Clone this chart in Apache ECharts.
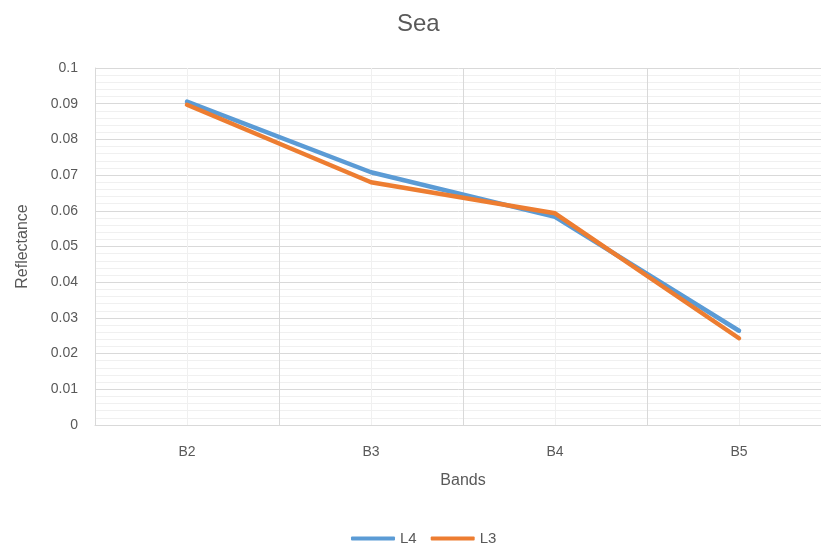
<!DOCTYPE html>
<html><head><meta charset="utf-8">
<script src="https://cdn.jsdelivr.net/npm/echarts@6/dist/echarts.min.js"></script>
<style>html,body{margin:0;padding:0;background:#fff}#c{width:821px;height:553px}</style>
</head><body><div id="c"></div>
<script>
const categories = ['B2','B3','B4','B5'];
const L4 = [0.0906, 0.0708, 0.0583, 0.0264];
const L3 = [0.0897, 0.0680, 0.0593, 0.0243];
const yTicks = [0,0.01,0.02,0.03,0.04,0.05,0.06,0.07,0.08,0.09,0.1];

const font = 'Liberation Sans';
const txt = '#595959';
const chart = echarts.init(document.getElementById('c'));
chart.setOption({
  animation:false,
  title:{text:'Sea', left:392, top:7, textStyle:{fontFamily:font, fontSize:24, fontWeight:'normal', color:txt}},
  legend:{bottom:2, left:346, itemWidth:44, itemHeight:4, icon:'roundRect', itemGap:14,
    textStyle:{fontFamily:font, fontSize:15, color:txt}, data:['L4','L3']},
  grid:{left:95, width:736, top:68, bottom:128, containLabel:false, outerBoundsMode:'none'},
  xAxis:[{
    type:'category', data:categories, boundaryGap:true,
    name:'Bands', nameLocation:'middle', nameGap:48,
    nameTextStyle:{fontFamily:font, fontSize:16, color:txt},
    axisLine:{show:true, lineStyle:{color:'#d9d9d9', width:1}},
    axisTick:{show:false},
    axisLabel:{fontFamily:font, fontSize:14, color:txt, margin:20},
    splitLine:{show:true, lineStyle:{color:'#d9d9d9', width:1}}
  },{
    type:'value', min:0, max:categories.length, interval:1, show:true, position:'bottom',
    axisLine:{show:false}, axisTick:{show:false}, axisLabel:{show:false},
    splitLine:{show:false},
    minorTick:{show:false, splitNumber:2},
    minorSplitLine:{show:true, lineStyle:{color:'#f0f0f0', width:1}}
  }],
  yAxis:{
    type:'value', min:yTicks[0], max:yTicks[yTicks.length-1], interval:0.01,
    name:'Reflectance', nameLocation:'middle', nameGap:64, nameRotate:90,
    nameTextStyle:{fontFamily:font, fontSize:16, color:txt},
    axisLine:{show:true, lineStyle:{color:'#d9d9d9'}},
    axisTick:{show:false},
    axisLabel:{fontFamily:font, fontSize:14, color:txt, margin:17,
      formatter:v=>{const t=yTicks.find(x=>Math.abs(x-v)<1e-9); return t===undefined?'':String(t);}},
    splitLine:{show:true, lineStyle:{color:'#d9d9d9', width:1}},
    minorTick:{show:false, splitNumber:5},
    minorSplitLine:{show:true, lineStyle:{color:'#f0f0f0', width:1}}
  },
  series:[
    {name:'L4', type:'line', data:L4, xAxisIndex:0, symbol:'none', z:3,
     lineStyle:{color:'#5B9BD5', width:4.5, cap:'round', join:'round'}, itemStyle:{color:'#5B9BD5'}},
    {name:'L3', type:'line', data:L3, xAxisIndex:0, symbol:'none', z:4,
     lineStyle:{color:'#ED7D31', width:4.5, cap:'round', join:'round'}, itemStyle:{color:'#ED7D31'}}
  ]
});
</script></body></html>
